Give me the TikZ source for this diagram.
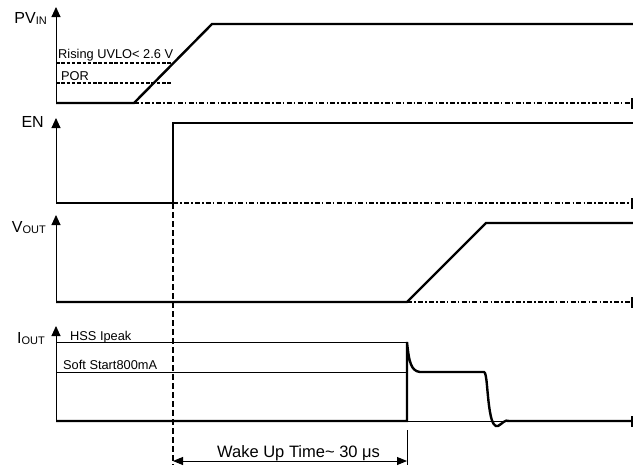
\documentclass[tikz,border=0pt]{standalone}
\usepackage{fontspec}
\setmainfont{Liberation Sans}
\usetikzlibrary{arrows.meta}
\newcommand\mysub[1]{\raisebox{-1.8pt}{\fontsize{11}{11}\selectfont #1}}
\begin{document}
\begin{tikzpicture}[x=1pt,y=-1pt,
 sigline/.style={line width=2.4pt, line join=miter},
 thinline/.style={line width=0.9pt},
 axisline/.style={line width=0.9pt, -{Triangle[length=10pt,width=9pt]}},
 dashdot/.style={line width=1.4pt, dash pattern=on 5pt off 2.2pt on 1.5pt off 2.2pt},
 guide/.style={line width=1.4pt, dash pattern=on 6pt off 3pt},
 level/.style={line width=1.2pt, dash pattern=on 3.5pt off 1.8pt},
 lbl/.style={font=\fontsize{16}{16}\selectfont, anchor=base east, inner sep=0pt},
 small/.style={font=\fontsize{12.8}{12.8}\selectfont, anchor=base west, inner sep=0pt},
 endbar/.style={line width=2pt}]
\useasboundingbox (0,0) rectangle (633,467);

% labels
\node[lbl] (pvl) at (47,23) {PV\mysub{IN}};
\node[lbl] (enl) at (44,127) {EN};
\node[lbl] (vol) at (46,232) {V\mysub{OUT}};
\node[lbl] (iol) at (45,343) {I\mysub{OUT}};

% axes
\draw[axisline] (56,103) -- (56,7);
\draw[axisline] (56,203) -- (56,118);
\draw[axisline] (56,302) -- (56,215);
\draw[axisline] (56,421) -- (56,326);

% PVIN
\draw[level] (56,63) -- (172,63);
\draw[level] (56,83) -- (172,83);
\node[small] (uvlo) at (58,58) {Rising UVLO< 2.6 V};
\node[small] (por) at (61,80) {POR};
\draw[dashdot] (134,103) -- (631,103);
\draw[endbar] (632,98) -- (632,109);
\draw[sigline] (56,103) -- (134,103) -- (212,24) -- (633,24);

% EN
\draw[dashdot] (173,203) -- (631,203);
\draw[endbar] (632,198) -- (632,209);
\draw[guide] (173,203) -- (173,465);
\draw[sigline] (56,203) -- (173,203) -- (173,123) -- (633,123);

% VOUT
\draw[dashdot] (407,302) -- (631,302);
\draw[endbar] (632,297) -- (632,308);
\draw[sigline] (56,302) -- (407,302) -- (486,223) -- (633,223);

% IOUT
\draw[thinline] (56,342) -- (407,342);
\draw[thinline] (56,372) -- (407,372);
\node[small] (hss) at (70,340) {HSS Ipeak};
\node[small] (ss) at (63,369) {Soft Start800mA};
\draw[thinline] (407,421) -- (512,421);
\draw[sigline] (56,421) -- (407,421) -- (407,342)
  .. controls (409,362) and (411,371) .. (420,372) -- (484,372)
  .. controls (487,372) and (487,395) .. (490,412)
  .. controls (492,424) and (495,427) .. (498,426)
  .. controls (502,424) and (505,419) .. (509,421) -- (631,421);
\draw[endbar] (632,416) -- (632,427);

% wake-up time
\draw[thinline] (407,430) -- (407,465);
\coordinate (wa) at (173,461);
\coordinate (wb) at (407,461);
\draw[thinline, {Triangle[length=10pt,width=8pt]}-{Triangle[length=10pt,width=8pt]}] (wa) -- (wb);
\node[font=\fontsize{16.5}{16.5}\selectfont, anchor=base west, inner sep=0pt] (wake) at (217,457) {Wake Up Time\textasciitilde{} 30 μs};
\end{tikzpicture}
\end{document}
